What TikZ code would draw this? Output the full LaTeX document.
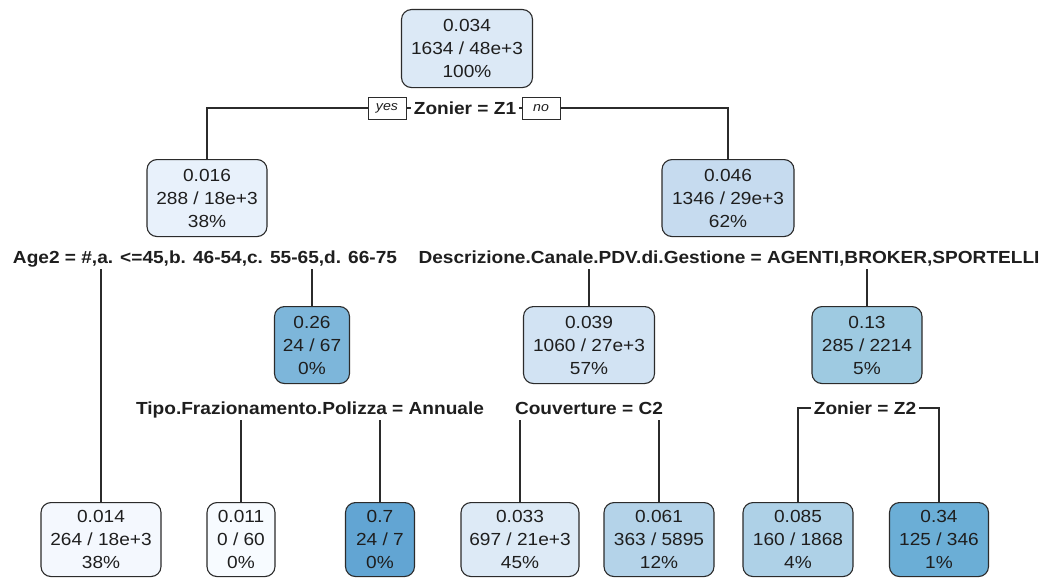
\documentclass[tikz,border=0pt]{standalone}
\usepackage{fontspec}
\setmainfont{Liberation Sans}[FakeStretch=1.09]
\usetikzlibrary{backgrounds}
\definecolor{bdr}{HTML}{2B2B2B}
\definecolor{txt}{HTML}{1E1E1E}
\definecolor{cA}{HTML}{DCE9F6}% 0.034
\definecolor{cB}{HTML}{E8F1FB}% 0.016
\definecolor{cC}{HTML}{C6DBEF}% 0.046
\definecolor{cD}{HTML}{7DB6DA}% 0.26
\definecolor{cE}{HTML}{D2E3F3}% 0.039
\definecolor{cF}{HTML}{9ECAE1}% 0.13
\definecolor{cG}{HTML}{F4F8FE}% 0.014
\definecolor{cH}{HTML}{F7FBFF}% 0.011
\definecolor{cI}{HTML}{62A5D3}% 0.7
\definecolor{cJ}{HTML}{DDEAF6}% 0.033
\definecolor{cK}{HTML}{B4D3E9}% 0.061
\definecolor{cL}{HTML}{AED1E7}% 0.085
\definecolor{cM}{HTML}{6BAED6}% 0.34
\tikzset{
  box/.style={draw=bdr, line width=1.1pt, rounded corners=10pt, align=center,
    inner sep=0pt, anchor=north, text=txt, font=\fontsize{17.5}{23}\selectfont},
  split/.style={font=\bfseries\fontsize{17.5}{23}\selectfont, text=txt, fill=white,
    inner xsep=3pt, inner ysep=5pt, text height=13pt, text depth=1pt},
  yn/.style={draw=bdr, line width=0.9pt, fill=white, text=txt,
    font=\itshape\fontsize{13}{15}\selectfont, minimum width=38pt,
    minimum height=22pt, inner sep=0pt},
  edge/.style={draw=bdr, line width=1.1pt}
}
\begin{document}
\begin{tikzpicture}[x=1pt,y=-1pt]
\useasboundingbox (0,0) rectangle (1044,578);
% internal nodes
\node[box, fill=cA, minimum width=131pt, minimum height=78pt] (root) at (467,9) {0.034\\1634 / 48e+3\\100\%};
\node[box, fill=cB, minimum width=120pt, minimum height=77pt] (n016) at (207,159) {0.016\\288 / 18e+3\\38\%};
\node[box, fill=cC, minimum width=132pt, minimum height=77pt] (n046) at (728,159) {0.046\\1346 / 29e+3\\62\%};
\node[box, fill=cD, minimum width=75pt, minimum height=77pt] (n026) at (312,306) {0.26\\24 / 67\\0\%};
\node[box, fill=cE, minimum width=131pt, minimum height=77pt] (n039) at (589,306) {0.039\\1060 / 27e+3\\57\%};
\node[box, fill=cF, minimum width=110pt, minimum height=77pt] (n013) at (867,306) {0.13\\285 / 2214\\5\%};
% leaves
\node[box, fill=cG, minimum width=120pt, minimum height=74pt] (l014) at (101,502) {0.014\\264 / 18e+3\\38\%};
\node[box, fill=cH, minimum width=68pt, minimum height=74pt] (l011) at (241,502) {0.011\\0 / 60\\0\%};
\node[box, fill=cI, minimum width=69pt, minimum height=74pt] (l07) at (380,502) {0.7\\24 / 7\\0\%};
\node[box, fill=cJ, minimum width=118pt, minimum height=74pt] (l033) at (520,502) {0.033\\697 / 21e+3\\45\%};
\node[box, fill=cK, minimum width=110pt, minimum height=74pt] (l061) at (659,502) {0.061\\363 / 5895\\12\%};
\node[box, fill=cL, minimum width=110pt, minimum height=74pt] (l085) at (798,502) {0.085\\160 / 1868\\4\%};
\node[box, fill=cM, minimum width=99pt, minimum height=74pt] (l034) at (939,502) {0.34\\125 / 346\\1\%};
% split labels
\node[split] (z1) at (465,108) {Zonier = Z1};
\node[split] (age) at (205,257) {Age2 = \#,a. <=45,b. 46-54,c. 55-65,d. 66-75};
\node[split] (desc) at (729,257) {Descrizione.Canale.PDV.di.Gestione = AGENTI,BROKER,SPORTELLI};
\node[split] (tipo) at (310,408) {Tipo.Frazionamento.Polizza = Annuale};
\node[split] (cou) at (589,408) {Couverture = C2};
\node[split] (z2) at (865,408) {Zonier = Z2};
% connectors
\begin{pgfonlayer}{background}
\draw[edge] (n016.north) |- (z1.west);
\draw[edge] (n046.north) |- (z1.east);
\draw[edge] (l014.north) -- (l014.north |- age.south);
\draw[edge] (n026.north) -- (n026.north |- age.south);
\draw[edge] (n039.north) -- (n039.north |- desc.south);
\draw[edge] (n013.north) -- (n013.north |- desc.south);
\draw[edge] (l011.north) -- (l011.north |- tipo.south);
\draw[edge] (l07.north) -- (l07.north |- tipo.south);
\draw[edge] (l033.north) -- (l033.north |- cou.south);
\draw[edge] (l061.north) -- (l061.north |- cou.south);
\draw[edge] (l085.north) |- (z2.west);
\draw[edge] (l034.north) |- (z2.east);
\end{pgfonlayer}
% yes / no tags
\node[yn] (yes) at (387,108) {yes};
\node[yn] (no) at (541,108) {no};
\end{tikzpicture}
\end{document}
